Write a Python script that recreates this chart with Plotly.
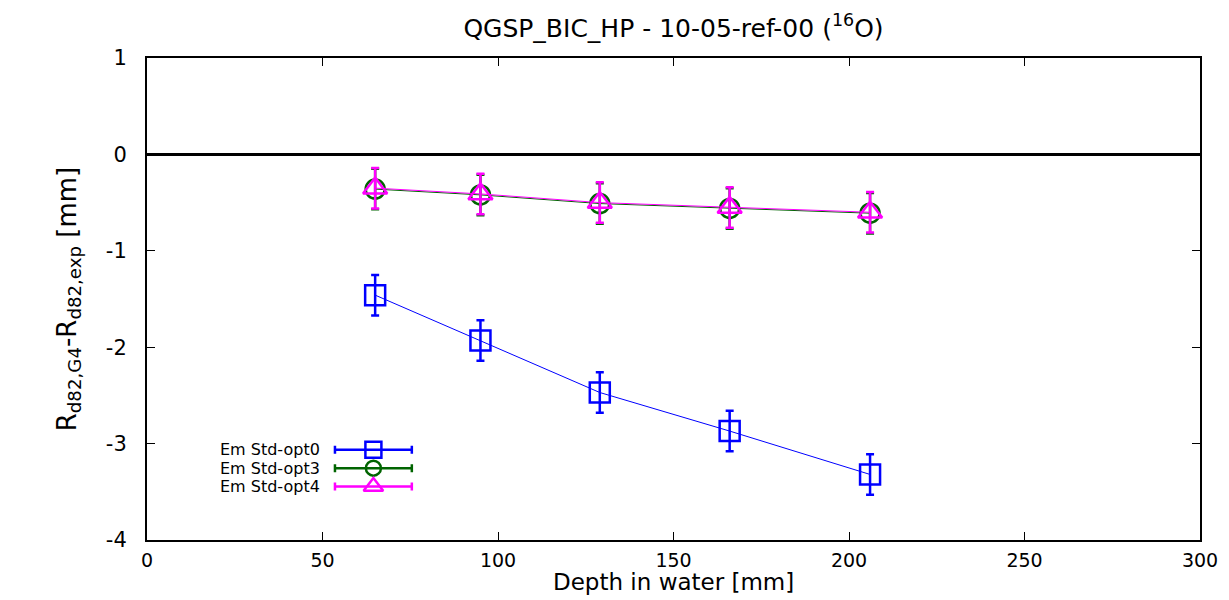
import plotly.graph_objects as go

depth = [65, 95, 129, 166, 206]
opt0 = [-1.46, -1.93, -2.47, -2.87, -3.32]
opt0_err = [0.21, 0.21, 0.21, 0.21, 0.21]
opt3 = [-0.36, -0.42, -0.51, -0.56, -0.61]
opt3_err = [0.21, 0.21, 0.21, 0.21, 0.21]
opt4 = [-0.35, -0.41, -0.50, -0.55, -0.60]
opt4_err = [0.21, 0.21, 0.21, 0.21, 0.21]

names = ["Em Std-opt0", "Em Std-opt3", "Em Std-opt4"]
colors = ["#0000ff", "#006400", "#ff00ff"]
symbols = ["square-open", "circle-open", "triangle-up-open"]
msizes = [20, 19, 21]
leg_sizes = [16, 15, 17]
series = [(opt0, opt0_err), (opt3, opt3_err), (opt4, opt4_err)]

xticks = [0, 50, 100, 150, 200, 250, 300]
xlabels = ["0", "50", "100", "150", "200", "250", "300"]
yticks = [1, 0, -1, -2, -3, -4]
ylabels = ["1", "0", "-1", "-2", "-3", "-4"]

FONT = "DejaVu Sans, Liberation Sans, Arial, sans-serif"

fig = go.Figure()

for (ys, es), n, c, s, ms in zip(series, names, colors, symbols, msizes):
    fig.add_trace(go.Scatter(
        x=depth, y=ys, mode="lines+markers", name=n,
        line=dict(color=c, width=1),
        marker=dict(symbol=s, size=ms, color=c, line=dict(color=c, width=2.5)),
        error_y=dict(type="data", array=es, visible=True, color=c, thickness=2.5, width=4),
        showlegend=False,
    ))

# zero line
fig.add_hline(y=0, line=dict(color="black", width=3))

# manual gnuplot-style legend on overlay axes
leg_y = [0.187, 0.149, 0.111]
for n, c, s, ms, yy in zip(names, colors, symbols, leg_sizes, leg_y):
    fig.add_trace(go.Scatter(
        x=[0.215], y=[yy], xaxis="x2", yaxis="y2", mode="markers",
        marker=dict(symbol=s, size=ms, color=c, line=dict(color=c, width=2.5)),
        error_x=dict(type="constant", value=0.0365, visible=True, color=c, thickness=2.5, width=4),
        showlegend=False, hoverinfo="skip",
    ))
    fig.add_annotation(x=0.166, y=yy, xref="x2", yref="y2", text=n, showarrow=False,
                       xanchor="right", yanchor="middle",
                       font=dict(family=FONT, size=16, color="black"))

# x-axis title as annotation (fixed position below tick labels)
fig.add_annotation(x=0.5, y=-0.118, xref="x domain", yref="paper", text="Depth in water [mm]",
                   showarrow=False, xanchor="center", yanchor="bottom",
                   font=dict(family=FONT, size=23, color="black"))

fig.update_layout(
    width=1229, height=600,
    margin=dict(l=147, r=29, t=58, b=60, autoexpand=False),
    paper_bgcolor="white", plot_bgcolor="white",
    title=dict(text="QGSP_BIC_HP - 10-05-ref-00 (<sup>16</sup>O)", x=(147 + 1200) / 2 / 1229,
               xanchor="center", y=0.953, yanchor="middle",
               font=dict(family=FONT, size=25, color="black")),
    xaxis=dict(range=[0, 300], tickvals=xticks, ticktext=xlabels, ticks="inside", ticklen=8,
               tickcolor="black", ticklabelstandoff=2, automargin=False,
               showgrid=False, zeroline=False, showline=True, linecolor="black", linewidth=2,
               mirror="ticks", tickfont=dict(family=FONT, size=19, color="black")),
    yaxis=dict(range=[-4, 1], tickvals=yticks, ticktext=ylabels, ticks="inside", ticklen=8,
               tickcolor="black", ticklabelstandoff=14, automargin=False,
               showgrid=False, zeroline=False, showline=True, linecolor="black", linewidth=2,
               mirror="ticks", tickfont=dict(family=FONT, size=21, color="black"),
               title=dict(text="R<sub>d82,G4</sub>-R<sub>d82,exp</sub> [mm]", standoff=22,
                          font=dict(family=FONT, size=26, color="black"))),
    xaxis2=dict(range=[0, 1], overlaying="x", visible=False, showgrid=False),
    yaxis2=dict(range=[0, 1], overlaying="y", visible=False, showgrid=False),
)

fig.write_html("out.html")
